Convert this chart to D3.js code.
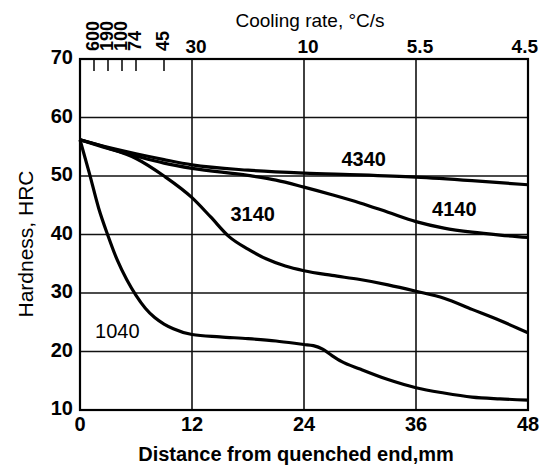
<!DOCTYPE html>
<html><head><meta charset="utf-8">
<script src="https://cdn.jsdelivr.net/npm/d3@7"></script>
<style>body{margin:0;background:#fff}svg{display:block}text{font-family:"Liberation Sans",Arial,sans-serif;fill:#000}</style>
</head><body><svg id="c" width="551" height="467"></svg>
<script>
// Distance (mm) ticks and hardness ticks
const xTicks = [0, 12, 24, 36, 48];
const yTicks = [10, 20, 30, 40, 50, 60, 70];
// Top axis: cooling rate labels at distance positions
const coolPos = [1.5, 3, 4.5, 6, 9, 12, 24, 36, 48];
const coolLabels = ["600", "190", "100", "74", "45", "30", "10", "5.5", "4.5"];
const steels = ["4340", "4140", "3140", "1040"];
const d4340 = [[0,56.2],[3,54.9],[6,53.8],[9,52.8],[12,51.9],[18,51],[24,50.5],[30,50.2],[36,49.8],[42,49.2],[48,48.5]];
const d4140 = [[0,56.2],[3,54.7],[6,53.4],[9,52.2],[12,51.3],[18,50.1],[21,49.3],[24,48.1],[27,46.8],[30,45.4],[33,43.8],[36,42.2],[39,41.1],[42,40.4],[45,39.9],[48,39.5]];
const d3140 = [[0,56.2],[3,54.8],[6,53],[9,50],[12,46.3],[14,43],[16,39.6],[18,37.5],[20,35.8],[22,34.6],[24,33.8],[27,33],[30,32.3],[33,31.4],[36,30.3],[39,29.1],[42,27.2],[45,25.3],[48,23.2]];
const d1040 = [[0,56.2],[1,50.5],[2,44.5],[3,39.8],[4,35.6],[5,32.3],[6,29.6],[7,27.4],[8,25.8],[9,24.7],[10,23.9],[12,22.9],[15,22.5],[18,22.2],[21,21.8],[24,21.2],[25,21],[26,20.4],[27,19.3],[28,18.3],[30,17],[33,15.2],[36,13.8],[39,12.9],[42,12.2],[45,11.9],[48,11.7]];
const series = [d4340, d4140, d3140, d1040];
const labelPos = [[30.4,51.7],[40.1,43.2],[18.5,42.3],[4,22.3]];

const svg = d3.select("#c");
const L = 80, R = 528, T = 59, B = 410;
const x = d3.scaleLinear().domain([0, 48]).range([L, R]);
const y = d3.scaleLinear().domain([10, 70]).range([B, T]);

// grid
const g = svg.append("g");
g.selectAll("line.h").data(yTicks.slice(1, -1)).join("line")
  .attr("x1", L).attr("x2", R).attr("y1", d => y(d)).attr("y2", d => y(d))
  .attr("stroke", "#111").attr("stroke-width", 1.6);
g.selectAll("line.v").data(xTicks.slice(1, -1)).join("line")
  .attr("y1", T).attr("y2", B).attr("x1", d => x(d)).attr("x2", d => x(d))
  .attr("stroke", "#111").attr("stroke-width", 1.6);
// small top ticks
g.selectAll("line.t").data(coolPos.slice(0, 5)).join("line")
  .attr("x1", d => x(d)).attr("x2", d => x(d)).attr("y1", T).attr("y2", T + 12)
  .attr("stroke", "#111").attr("stroke-width", 1.6);
// frame
svg.append("rect").attr("x", L).attr("y", T).attr("width", R - L).attr("height", B - T)
  .attr("fill", "none").attr("stroke", "#000").attr("stroke-width", 2.2);

// y tick labels
svg.selectAll("text.yl").data(yTicks).join("text")
  .attr("x", L - 7).attr("y", d => y(d) + 5).attr("text-anchor", "end")
  .attr("font-size", 20).attr("font-weight", "bold").text(d => d);
// x tick labels
svg.selectAll("text.xl").data(xTicks).join("text")
  .attr("x", d => x(d)).attr("y", B + 21).attr("text-anchor", "middle")
  .attr("font-size", 20).attr("font-weight", "bold").text(d => d);
// top labels
coolPos.forEach((p, i) => {
  if (i < 5) {
    svg.append("text").attr("transform", `translate(${x(p) + 5},${T - 8}) rotate(-90)`)
      .attr("font-size", 18).attr("font-weight", "bold").text(coolLabels[i]);
  } else {
    svg.append("text").attr("x", x(p)).attr("y", T - 6).attr("text-anchor", i === 8 ? "end" : "middle")
      .attr("dx", i === 8 ? 10 : 4)
      .attr("font-size", 19).attr("font-weight", "bold").text(coolLabels[i]);
  }
});
// titles
svg.append("text").attr("x", 310).attr("y", 27).attr("text-anchor", "middle")
  .attr("font-size", 19).text("Cooling rate, °C/s");
svg.append("text").attr("x", 296).attr("y", 461).attr("text-anchor", "middle")
  .attr("font-size", 20).attr("font-weight", "bold").text("Distance from quenched end,mm");
svg.append("text").attr("transform", "translate(33,244) rotate(-90)").attr("text-anchor", "middle")
  .attr("font-size", 21).text("Hardness, HRC");

// curves
const line = d3.line().x(d => x(d[0])).y(d => y(d[1])).curve(d3.curveMonotoneX);
svg.selectAll("path.c").data(series).join("path")
  .attr("d", line).attr("fill", "none").attr("stroke", "#000").attr("stroke-width", 3.2);

// curve labels
svg.selectAll("text.cl").data(steels).join("text")
  .attr("x", (d, i) => x(labelPos[i][0])).attr("y", (d, i) => y(labelPos[i][1]))
  .attr("text-anchor", "middle").attr("font-size", 20).attr("font-weight", (d, i) => i === 3 ? "normal" : "bold")
  .text(d => d);
</script></body></html>
